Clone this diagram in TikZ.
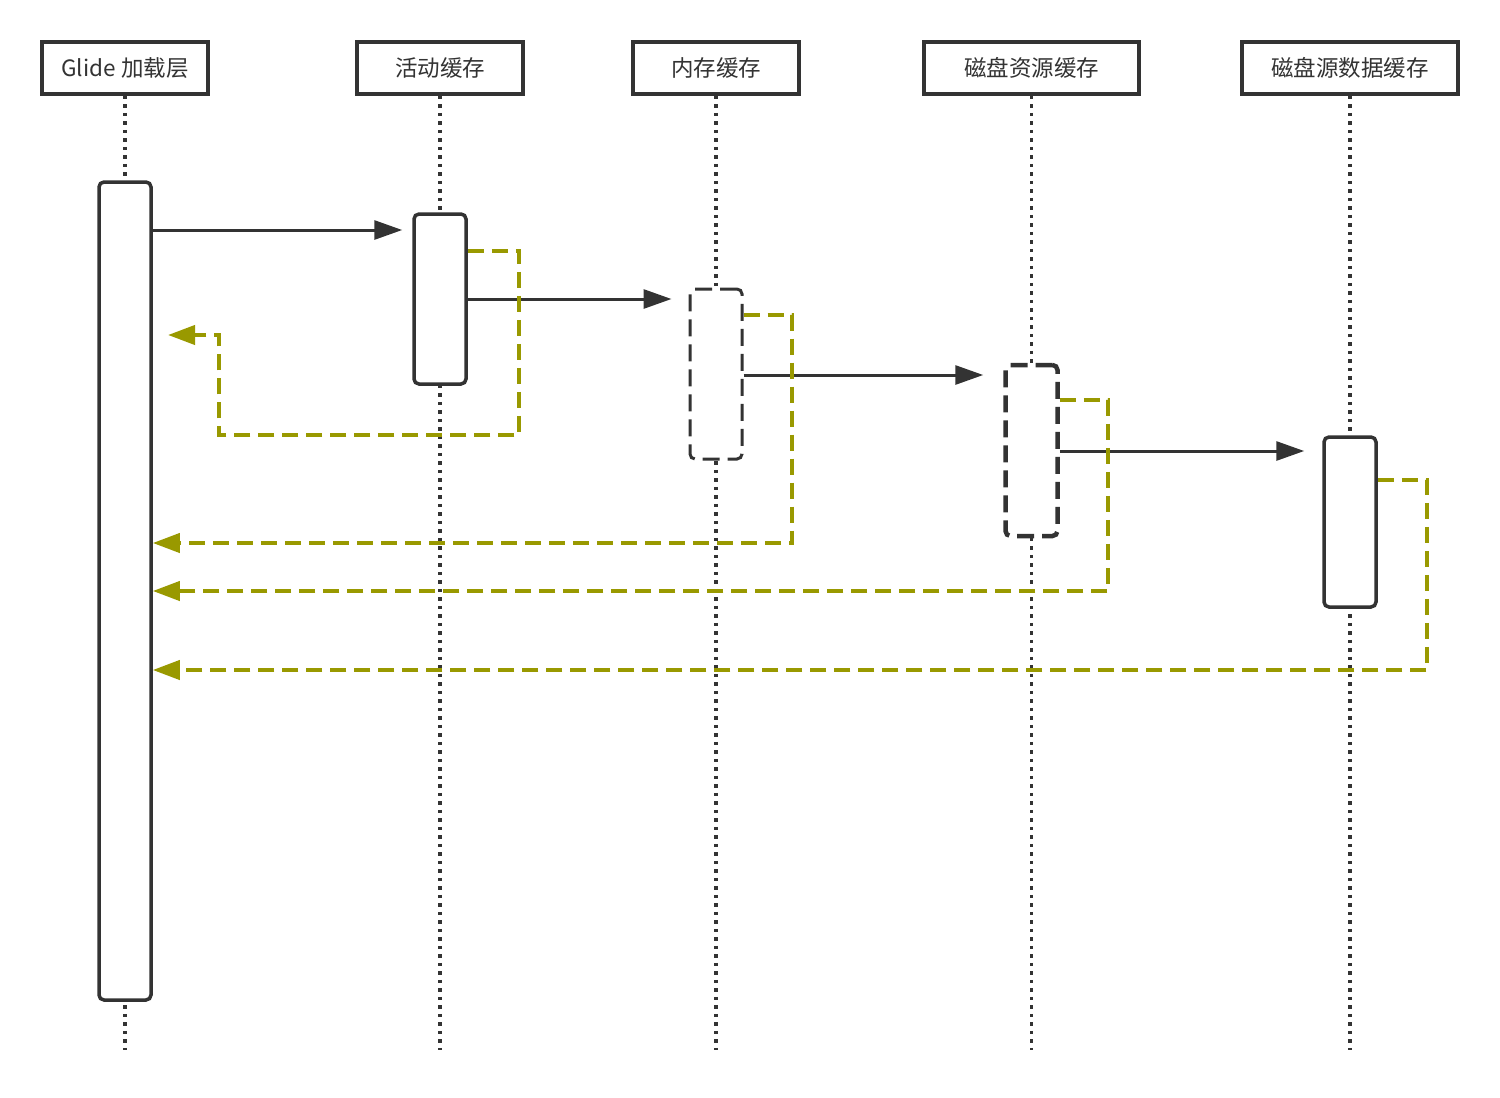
\documentclass[tikz,border=0pt]{standalone}
\usepackage{fontspec}
\setmainfont{Noto Sans CJK SC}
\usetikzlibrary{arrows.meta}
\definecolor{ink}{HTML}{333333}
\definecolor{olive}{HTML}{999900}
\tikzset{
  head/.style={draw=ink, line width=3.5pt, minimum height=52pt, inner sep=0pt, text=ink, font=\fontsize{22.5pt}{26pt}\selectfont, fill=white},
  act/.style={draw=ink, line width=3.5pt, rounded corners=5pt, minimum width=52pt, inner sep=0pt, fill=white},
  actdash/.style={act, dash pattern=on 17pt off 8pt},
  life/.style={draw=ink, line width=3.5pt, dash pattern=on 3.5pt off 5pt},
  msg/.style={draw=ink, line width=3pt, -{Triangle[length=28pt,width=19pt]}},
  ret/.style={draw=olive, line width=4pt, dash pattern=on 16pt off 8pt, -{Triangle[length=27pt,width=19pt]}},
}
\begin{document}
\begin{tikzpicture}[x=1pt,y=-1pt]
\useasboundingbox (0,0) rectangle (1500,1098);
% headers
\node[head, minimum width=166pt] (h1) at (125,68) {Glide 加载层};
\node[head, minimum width=166pt] (h2) at (440,68) {活动缓存};
\node[head, minimum width=166pt] (h3) at (716,68) {内存缓存};
\node[head, minimum width=215pt] (h4) at (1031.5,68) {磁盘资源缓存};
\node[head, minimum width=216pt] (h5) at (1350,68) {磁盘源数据缓存};
% lifelines
\foreach \i in {1,...,5} {
  \coordinate (e\i) at (h\i.south |- 0,1050);
  \draw[life] (h\i.south) -- (e\i);
}
% activations
\node[act, minimum height=818pt] (a1) at (125,591) {};
\node[act, minimum height=170pt] (a2) at (440,299) {};
\node[actdash, line width=3pt, minimum height=170pt] (a3) at (716,374) {};
\node[actdash, line width=4.5pt, minimum height=171pt] (a4) at (1031.5,450.5) {};
\node[act, minimum height=170pt] (a5) at (1350,522) {};
% messages
\coordinate (m1) at (a1.east |- 0,230);
\draw[msg, shorten >=10pt] (m1) -- (m1 -| a2.west);
\coordinate (m2) at (a2.east |- 0,299);
\draw[msg, shorten >=17pt] (m2) -- (m2 -| a3.west);
\coordinate (m3) at (a3.east |- 0,375);
\draw[msg, shorten >=20pt] (m3) -- (m3 -| a4.west);
\coordinate (m4) at (a4.east |- 0,451);
\draw[msg, shorten >=18pt] (m4) -- (m4 -| a5.west);
% returns
\coordinate (r1) at (a2.east |- 0,251);
\coordinate (r1end) at (168,335);
\draw[ret] (r1) -- (519,251) -- (519,435) -- (219,435) -- (219,335) -- (r1end);
\coordinate (r2) at (a3.east |- 0,315);
\draw[ret] (r2) -- (792,315) -- (792,543) -- (a1.east |- 0,543);
\coordinate (r3) at (a4.east |- 0,400);
\draw[ret] (r3) -- (1108,400) -- (1108,591) -- (a1.east |- 0,591);
\coordinate (r4) at (a5.east |- 0,480);
\draw[ret] (r4) -- (1427,480) -- (1427,670) -- (a1.east |- 0,670);
\end{tikzpicture}
\end{document}
